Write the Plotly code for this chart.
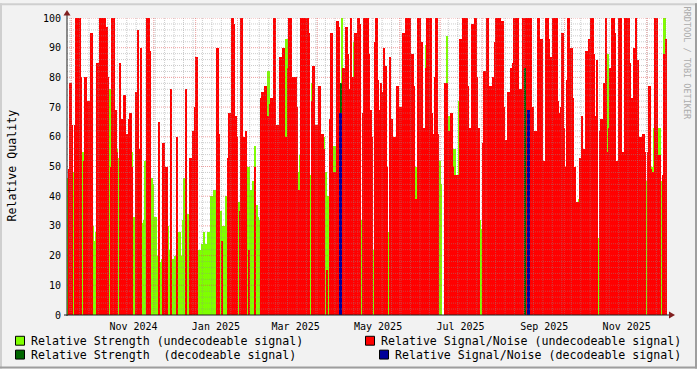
import plotly.graph_objects as go
import pandas as pd

# ---------------- data (~1.1 day columns) ----------------
snr_undecodeable = [
    # Sep 28 - Dec 25 2024
    0, 49, 78, 64, 0, 64, 100, 100, 100, 80, 0, 52, 80, 0, 72, 72, 95, 0, 0, 0,
    85, 60, 100, 100, 100, 100, 97, 80, 0, 50, 100, 100, 69, 55, 0, 85, 66, 60, 74, 60,
    61, 66, 68, 50, 0, 0, 75, 96, 56, 90, 0, 0, 0, 100, 100, 89, 0, 0, 0, 0,
    0, 65, 0, 0, 58, 0, 50, 0, 0, 76, 0, 0, 0, 60, 0, 0, 0, 0, 0, 76,
    # Dec 25 2024 - Mar 23 2025
    0, 0, 53, 0, 62, 70, 87, 0, 0, 0, 0, 0, 0, 0, 0, 0, 0, 0, 0, 0,
    90, 61, 0, 25, 0, 0, 0, 53, 68, 66, 100, 98, 67, 60, 0, 35, 100, 55, 60, 62,
    0, 22, 0, 0, 0, 50, 0, 0, 0, 73, 75, 70, 77, 65, 67, 71, 73, 52, 100, 60,
    64, 50, 87, 70, 90, 60, 60, 83, 100, 100, 80, 75, 80, 70, 42, 42, 100, 98, 100, 100,
    # Mar 23 - Jun 21 2025
    100, 95, 0, 72, 84, 55, 64, 50, 77, 61, 61, 56, 0, 15, 0, 66, 95, 0, 48, 48,
    99, 97, 76, 76, 83, 65, 97, 88, 76, 100, 80, 80, 95, 56, 100, 98, 0, 68, 100, 57,
    100, 88, 69, 60, 0, 92, 100, 79, 69, 78, 75, 90, 84, 50, 0, 87, 66, 0, 60, 0,
    77, 60, 70, 50, 95, 70, 100, 93, 100, 85, 88, 77, 39, 0, 100, 100, 92, 43, 63, 83,
    # Jun 21 - Sep 18 2025
    100, 68, 100, 68, 61, 80, 100, 61, 0, 0, 0, 0, 78, 78, 62, 62, 68, 50, 47, 0,
    47, 47, 93, 68, 100, 80, 100, 77, 63, 0, 98, 63, 100, 80, 63, 0, 0, 58, 82, 80,
    100, 43, 77, 49, 80, 92, 100, 88, 100, 64, 99, 70, 59, 52, 75, 75, 83, 85, 100, 82,
    100, 75, 76, 73, 100, 73, 100, 100, 100, 100, 70, 51, 62, 55, 100, 91, 93, 0, 52, 100,
    # Sep 18 - Dec 15 2025
    100, 93, 87, 75, 100, 99, 100, 72, 68, 70, 95, 63, 50, 79, 100, 80, 90, 73, 50, 0,
    38, 0, 53, 67, 56, 33, 89, 64, 93, 100, 100, 88, 67, 86, 0, 62, 66, 0, 78, 100,
    55, 63, 83, 100, 100, 95, 52, 0, 100, 100, 55, 0, 100, 100, 100, 85, 73, 0, 90, 100,
    86, 60, 60, 0, 61, 55, 0, 55, 77, 49, 48, 0, 100, 100, 54, 54, 0, 47, 88, 93,
]
strength_undecodeable = [
    # Sep 28 - Dec 25 2024
    46, 46, 36, 36, 48, 48, 35, 35, 36, 36, 55, 55, 43, 43, 60, 40, 30, 30, 25, 28,
    38, 38, 95, 80, 40, 40, 42, 42, 76, 40, 60, 60, 56, 56, 53, 40, 65, 40, 50, 50,
    45, 45, 55, 55, 33, 30, 36, 36, 50, 50, 31, 32, 52, 98, 76, 50, 46, 44, 33, 33,
    20, 19, 18, 19, 24, 20, 33, 30, 22, 18, 19, 18, 20, 22, 28, 28, 20, 32, 46, 46,
    # Dec 25 2024 - Mar 23 2025
    34, 31, 26, 26, 24, 24, 21, 21, 22, 22, 24, 28, 24, 24, 28, 22, 40, 38, 42, 25,
    28, 28, 35, 30, 30, 22, 40, 40, 38, 38, 38, 38, 38, 38, 38, 38, 56, 56, 50, 50,
    50, 50, 42, 34, 45, 57, 37, 33, 32, 32, 32, 32, 32, 32, 82, 60, 45, 45, 53, 53,
    35, 35, 34, 34, 48, 48, 93, 70, 99, 60, 68, 68, 47, 47, 48, 54, 60, 60, 40, 40,
    # Mar 23 - Jun 21 2025
    32, 32, 47, 78, 56, 56, 50, 50, 38, 38, 60, 60, 48, 34, 40, 40, 30, 30, 57, 57,
    38, 38, 60, 100, 50, 50, 50, 66, 60, 60, 60, 92, 55, 55, 40, 40, 32, 32, 40, 40,
    40, 40, 48, 48, 22, 22, 28, 28, 30, 30, 30, 30, 30, 30, 28, 28, 22, 22, 52, 59,
    42, 42, 68, 68, 48, 48, 40, 40, 55, 55, 56, 56, 50, 28, 55, 55, 57, 57, 57, 91,
    # Jun 21 - Sep 18 2025
    97, 40, 40, 40, 58, 40, 50, 52, 52, 44, 0, 0, 40, 94, 67, 50, 55, 55, 56, 38,
    40, 72, 58, 58, 45, 45, 40, 40, 51, 52, 50, 50, 48, 48, 32, 32, 29, 29, 40, 40,
    38, 38, 40, 40, 45, 45, 40, 40, 97, 40, 48, 48, 39, 39, 75, 75, 55, 55, 32, 32,
    40, 40, 50, 50, 40, 40, 100, 100, 98, 40, 45, 45, 40, 40, 40, 40, 38, 38, 40, 40,
    # Sep 18 - Dec 15 2025
    40, 40, 40, 40, 40, 40, 40, 40, 40, 40, 27, 27, 42, 42, 68, 68, 68, 68, 42, 33,
    31, 39, 40, 40, 36, 36, 35, 35, 35, 35, 35, 35, 26, 26, 26, 26, 30, 30, 40, 40,
    88, 60, 22, 22, 40, 40, 23, 23, 33, 33, 40, 55, 40, 40, 40, 40, 67, 67, 40, 40,
    50, 50, 57, 57, 52, 52, 45, 45, 49, 49, 50, 63, 52, 52, 63, 63, 45, 46, 100, 70,
]
# the few decodeable-signal readings
strength_decodeable_dates = ["2025-04-18 21:00", "2025-09-02 02:00"]
strength_decodeable = [78, 83]
snr_decodeable_dates = ["2025-04-18 05:00", "2025-09-04 07:00"]
snr_decodeable = [68, 69]

x_labels = ["Nov 2024", "Jan 2025", "Mar 2025", "May 2025", "Jul 2025", "Sep 2025", "Nov 2025"]
x_label_dates = ["2024-11-16", "2025-01-16", "2025-03-16", "2025-05-16", "2025-07-16", "2025-09-16", "2025-11-16"]
y_ticks = [0, 10, 20, 30, 40, 50, 60, 70, 80, 90, 100]

# ---------------- geometry ----------------
W, H = 697, 369
L, R, T, B = 67, 667, 15, 315
PX_PER_DAY = 1.3512
ref_day = pd.Timestamp("2024-11-16")
ref_px = 133.5


def px_to_date(px):
    return ref_day + pd.Timedelta(days=(px - ref_px) / PX_PER_DAY)


COL_PX = 1.5
col_ms = COL_PX / PX_PER_DAY * 86400000
col_dates = pd.date_range(px_to_date(L + COL_PX / 2), periods=len(snr_undecodeable),
                          freq=pd.Timedelta(milliseconds=col_ms))
x_range = [px_to_date(L), px_to_date(R)]

GREEN = "#7FFF00"
RED = "#FF0000"
DGREEN = "#006600"
BLUE = "#000099"

fig = go.Figure()
fig.add_trace(go.Bar(x=col_dates, y=strength_undecodeable, width=col_ms * 1.02,
                     marker=dict(color=GREEN, line=dict(width=0)), showlegend=False))
fig.add_trace(go.Bar(x=col_dates, y=snr_undecodeable, width=col_ms * 1.02,
                     marker=dict(color=RED, line=dict(width=0)), showlegend=False))
fig.add_trace(go.Bar(x=pd.to_datetime(strength_decodeable_dates), y=strength_decodeable,
                     width=1.5 / PX_PER_DAY * 86400000,
                     marker=dict(color=DGREEN, line=dict(width=0)), showlegend=False))
fig.add_trace(go.Bar(x=pd.to_datetime(snr_decodeable_dates), y=snr_decodeable,
                     width=2.5 / PX_PER_DAY * 86400000,
                     marker=dict(color=BLUE, line=dict(width=0)), showlegend=False))


def px2x(px):
    return (px - L) / (R - L)


def py2y(py):
    return (B - py) / (B - T)


shapes = []
MINOR = "rgba(143,143,143,0.45)"
MAJOR = "rgba(222,79,79,0.55)"
DOT = "1px,1px"
# vertical grid
for d in pd.date_range("2024-09-30", "2025-12-15", freq="W-MON"):
    if x_range[0] < d < x_range[1]:
        shapes.append(dict(type="line", xref="x", yref="paper", x0=d, x1=d, y0=0, y1=1,
                           line=dict(color=MINOR, width=1, dash=DOT), layer="above"))
for d in pd.date_range("2024-10-01", "2025-12-01", freq="MS"):
    shapes.append(dict(type="line", xref="x", yref="paper", x0=d, x1=d, y0=0, y1=1,
                       line=dict(color=MAJOR, width=1, dash=DOT), layer="above"))
# horizontal grid
for v in range(2, 101, 2):
    col = MAJOR if v % 10 == 0 else MINOR
    shapes.append(dict(type="line", xref="paper", yref="y", x0=0, x1=1, y0=v, y1=v,
                       line=dict(color=col, width=1, dash=DOT), layer="above"))
# axes
shapes.append(dict(type="line", xref="paper", yref="paper", x0=px2x(L), x1=px2x(L),
                   y0=py2y(B + 1), y1=py2y(12), line=dict(color="#1F1F1F", width=1), layer="above"))
shapes.append(dict(type="line", xref="paper", yref="paper", x0=px2x(64), x1=px2x(669),
                   y0=py2y(B), y1=py2y(B), line=dict(color="#1F1F1F", width=1), layer="above"))
# arrows
shapes.append(dict(type="path", xref="paper", yref="paper",
                   path=f"M {px2x(67)} {py2y(7)} L {px2x(63.5)} {py2y(12.5)} L {px2x(70.5)} {py2y(12.5)} Z",
                   fillcolor="#801F1F", line=dict(width=0), layer="above"))
shapes.append(dict(type="path", xref="paper", yref="paper",
                   path=f"M {px2x(675)} {py2y(B)} L {px2x(669)} {py2y(B - 3.5)} L {px2x(669)} {py2y(B + 3.5)} Z",
                   fillcolor="#801F1F", line=dict(width=0), layer="above"))
# frame shades
shapes.append(dict(type="rect", xref="paper", yref="paper", x0=px2x(0), x1=px2x(W), y0=py2y(0), y1=py2y(2),
                   fillcolor="#CFCFCF", line=dict(width=0)))
shapes.append(dict(type="rect", xref="paper", yref="paper", x0=px2x(0), x1=px2x(2), y0=py2y(0), y1=py2y(H),
                   fillcolor="#CFCFCF", line=dict(width=0)))
shapes.append(dict(type="rect", xref="paper", yref="paper", x0=px2x(0), x1=px2x(W), y0=py2y(H - 2), y1=py2y(H),
                   fillcolor="#9E9E9E", line=dict(width=0)))
shapes.append(dict(type="rect", xref="paper", yref="paper", x0=px2x(W - 2), x1=px2x(W), y0=py2y(0), y1=py2y(H),
                   fillcolor="#9E9E9E", line=dict(width=0)))

FONT = "DejaVu Sans Mono"
annotations = []
legend_items = [
    (15, 341, GREEN, 30, "Relative Strength (undecodeable signal)"),
    (365, 341, RED, 380, "Relative Signal/Noise (undecodeable signal)"),
    (15, 355, DGREEN, 30, "Relative Strength  (decodeable signal)"),
    (379, 355, BLUE, 394, "Relative Signal/Noise (decodeable signal)"),
]
for bx, cy, colr, tx, txt in legend_items:
    shapes.append(dict(type="rect", xref="paper", yref="paper",
                       x0=px2x(bx + 0.5), x1=px2x(bx + 9.5), y0=py2y(cy - 4.5), y1=py2y(cy + 4.5),
                       fillcolor=colr, line=dict(color="#000000", width=1)))
    annotations.append(dict(xref="paper", yref="paper", x=px2x(tx), y=py2y(cy), text=txt.replace(" ", "&nbsp;"),
                            showarrow=False, xanchor="left", yanchor="middle", borderpad=0,
                            font=dict(family=FONT, size=11.6, color="#000000")))

annotations.append(dict(xref="paper", yref="paper", x=px2x(12), y=py2y(164), text="Relative Quality",
                        textangle=-90, showarrow=False, xanchor="center", yanchor="middle",
                        font=dict(family=FONT, size=11.6, color="#000000")))
annotations.append(dict(xref="paper", yref="paper", x=px2x(687), y=py2y(60), text="RRDTOOL / TOBI OETIKER",
                        textangle=90, showarrow=False, xanchor="center", yanchor="middle",
                        font=dict(family=FONT, size=8.5, color="#ABABAB")))

fig.update_layout(
    width=W, height=H,
    margin=dict(l=L, r=W - R, t=T, b=H - B, pad=0),
    paper_bgcolor="#F2F2F2", plot_bgcolor="#FFFFFF",
    barmode="overlay", bargap=0,
    showlegend=False,
    shapes=shapes, annotations=annotations,
    xaxis=dict(type="date", range=x_range, showgrid=False, zeroline=False, showline=False,
               tickmode="array", tickvals=pd.to_datetime(x_label_dates), ticktext=x_labels,
               ticks="", ticklabelstandoff=4,
               tickfont=dict(family=FONT, size=10, color="#000000")),
    yaxis=dict(range=[0, 100], showgrid=False, zeroline=False, showline=False,
               tickmode="array", tickvals=y_ticks, ticktext=[str(v) for v in y_ticks],
               ticks="", ticklabelstandoff=5,
               tickfont=dict(family=FONT, size=10, color="#000000")),
)

fig.write_html("out.html")
